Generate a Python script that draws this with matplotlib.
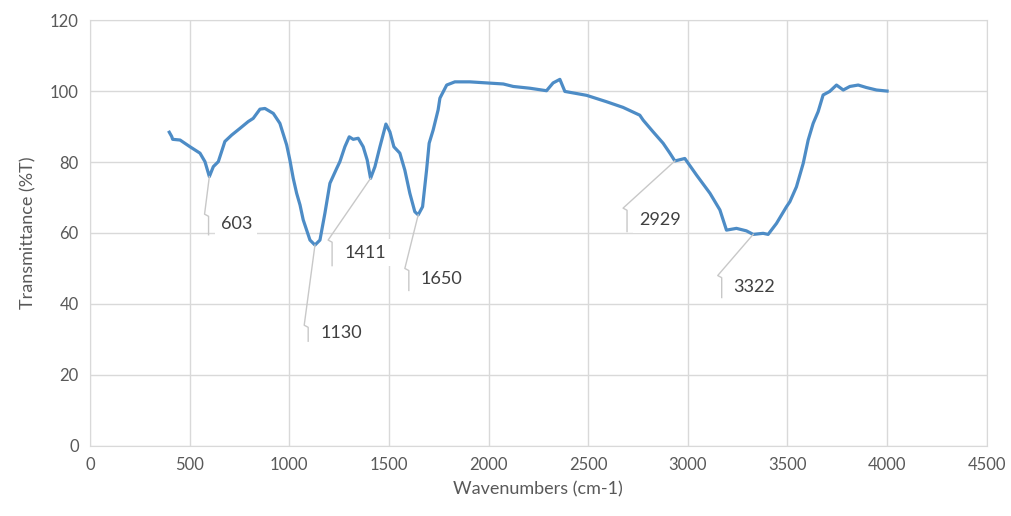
import matplotlib.pyplot as plt

# FTIR spectrum
wavenumber = [398, 410, 415, 452, 502, 552, 577, 599, 619, 644, 677, 711, 753, 794,
              819, 853, 878, 920, 953, 987, 1003, 1020, 1037, 1054, 1070, 1104, 1129,
              1154, 1179, 1204, 1238, 1254, 1279, 1301, 1321, 1346, 1371, 1391, 1408,
              1430, 1455, 1485, 1505, 1525, 1555, 1580, 1605, 1630, 1647, 1669, 1689,
              1702, 1722, 1747, 1756, 1790, 1831, 1906, 1990, 2074, 2124, 2208, 2291,
              2324, 2358, 2383, 2492, 2592, 2675, 2759, 2776, 2826, 2876, 2910, 2935,
              2985, 3044, 3111, 3161, 3194, 3244, 3294, 3328, 3378, 3403, 3445, 3495,
              3512, 3545, 3579, 3604, 3629, 3654, 3679, 3712, 3746, 3780, 3813, 3855,
              3896, 3947, 4000]
transmittance = [88.4, 87.2, 86.4, 86.2, 84.3, 82.5, 80.1, 75.9, 78.7, 80.1, 85.8, 87.6,
                 89.5, 91.4, 92.3, 94.9, 95.1, 93.7, 90.9, 84.8, 80.6, 75.4, 71.2, 67.9,
                 63.7, 58.0, 56.6, 58.0, 65.6, 74.0, 78.2, 80.1, 84.3, 87.1, 86.4, 86.7,
                 84.3, 80.6, 75.4, 78.7, 84.3, 90.7, 88.5, 84.3, 82.5, 77.7, 71.2, 66.0,
                 65.1, 67.4, 77.7, 85.3, 89.0, 94.7, 98.0, 101.7, 102.6, 102.6, 102.3,
                 102.0, 101.3, 100.8, 100.1, 102.3, 103.3, 99.9, 98.8, 97.0, 95.4, 93.2,
                 91.8, 88.5, 85.3, 82.5, 80.3, 81.0, 76.3, 71.2, 66.5, 60.8, 61.3, 60.6,
                 59.6, 59.9, 59.6, 62.7, 67.4, 68.8, 73.0, 79.6, 86.2, 90.9, 94.2, 98.9,
                 99.9, 101.7, 100.3, 101.3, 101.7, 101.0, 100.3, 100.0]

# peak labels: label text, peak point, leader bend point, bracket bottom
peak_labels = ['603', '1130', '1411', '1650', '2929', '3322']
peak_xy = [(599, 75.9), (1129, 56.6), (1408, 75.4), (1647, 65.1), (2935, 80.3), (3328, 59.6)]
bend_xy = [(575, 65.3), (1075, 34.0), (1195, 58.0), (1580, 50.0), (2675, 67.0), (3150, 48.0)]
bracket_bottom = [59.5, 29.5, 50.8, 43.8, 60.4, 41.8]

plt.rcParams['font.family'] = ['Lato', 'DejaVu Sans']

fig = plt.figure(figsize=(10.11, 5.16), dpi=100)
ax = fig.add_axes([0.089, 0.136, 0.887, 0.825])

ax.plot(wavenumber, transmittance, color='#4d8cc6', linewidth=2.3, zorder=3)

for lab, (px, py), (bx, by), yb in zip(peak_labels, peak_xy, bend_xy, bracket_bottom):
    # leader with the little hook at the top of the bracket
    ax.plot([px, bx, bx + 20, bx + 20], [py, by, by - 0.6, yb],
            color='#c8c8c8', linewidth=1.0, zorder=4)
    ax.text(bx + 80, (by + yb) / 2, lab, fontsize=13, color='#404040',
            ha='left', va='center', zorder=5,
            bbox=dict(facecolor='white', edgecolor='none', pad=4))

ax.set_xlim(0, 4500)
ax.set_ylim(0, 120)
ax.set_xticks(range(0, 4501, 500))
ax.set_yticks(range(0, 121, 20))
ax.grid(True, color='#d9d9d9', linewidth=1.0)
ax.set_axisbelow(True)
for s in ax.spines.values():
    s.set_color('#d9d9d9')
ax.tick_params(length=0, labelsize=12, labelcolor='#595959', pad=8)

ax.set_xlabel('Wavenumbers (cm-1)', fontsize=13, color='#595959', labelpad=6)
ax.set_ylabel('Transmittance (%T)', fontsize=13, color='#595959', labelpad=10)

fig.savefig('out.png', dpi=100)
